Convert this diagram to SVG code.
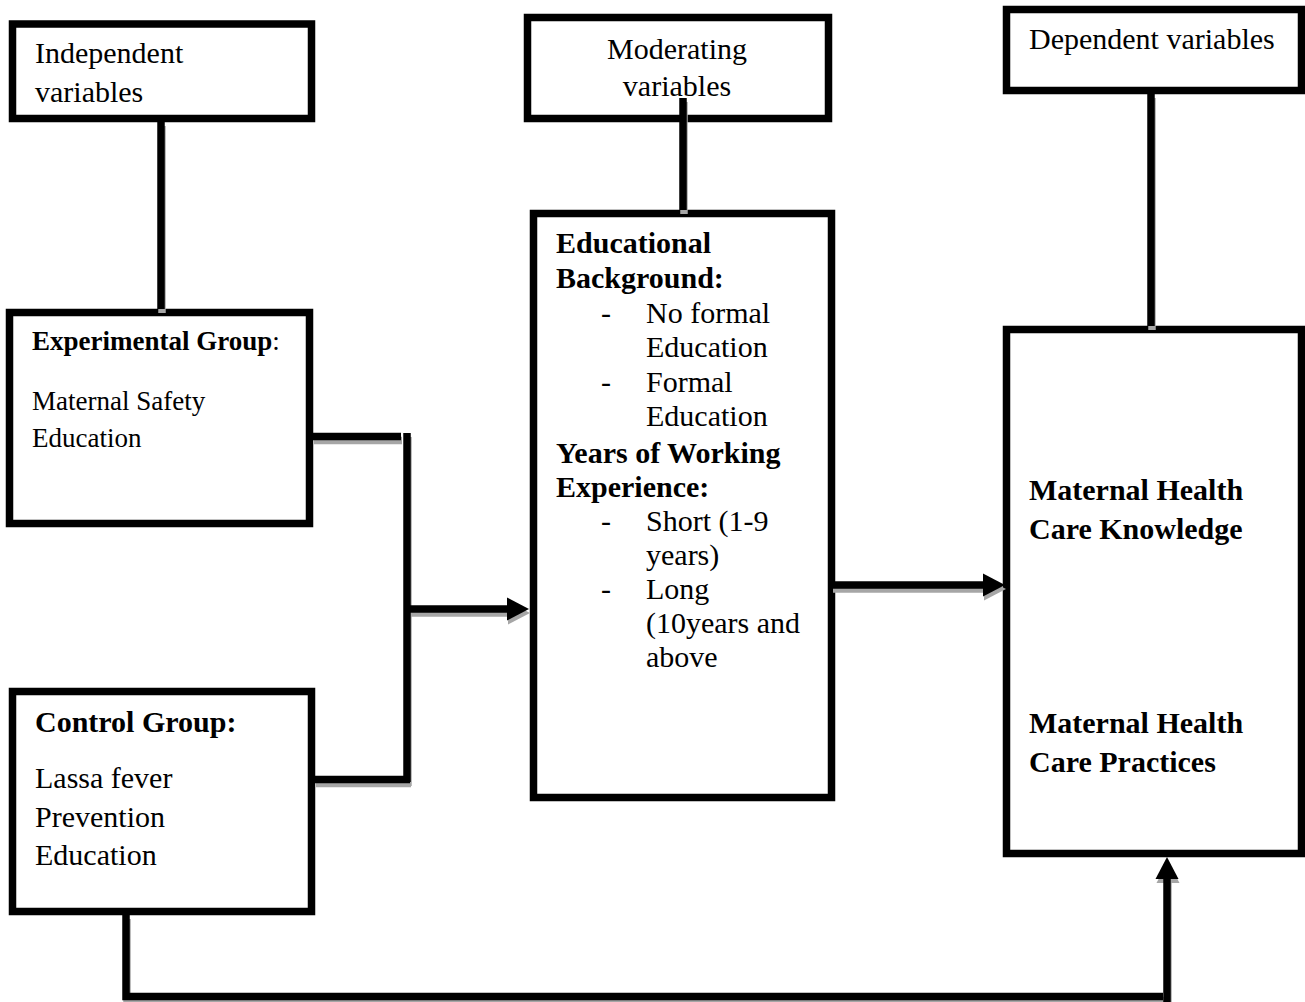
<svg xmlns="http://www.w3.org/2000/svg" width="1305" height="1002" viewBox="0 0 1305 1002">
<style>
  text { font-family: "Liberation Serif", "Times New Roman", serif; font-size: 30px; fill: #000; }
  .b { font-weight: bold; }
  .s { font-size: 27px; }
  .box { fill: #fff; stroke: #000; stroke-width: 7.5; }
  .ln { fill: none; stroke: #000; stroke-width: 7.5; stroke-linecap: butt; stroke-linejoin: miter; }
  .sh { fill: none; stroke: #a6a6a6; stroke-width: 7.5; stroke-linecap: butt; stroke-linejoin: miter; }
</style>
<defs>
  <marker id="ah" markerUnits="userSpaceOnUse" markerWidth="22" markerHeight="23" refX="0" refY="11.5" orient="auto" overflow="visible">
    <path d="M0,0 L22,11.5 L0,23 Z" fill="#000"/>
  </marker>
  <marker id="ahs" markerUnits="userSpaceOnUse" markerWidth="22" markerHeight="23" refX="0" refY="11.5" orient="auto" overflow="visible">
    <path d="M0,0 L22,11.5 L0,23 Z" fill="#a6a6a6"/>
  </marker>
</defs>
<rect width="1305" height="1002" fill="#fff"/>

<g id="independent">
  <rect class="box" x="12.5" y="24" width="299" height="94.5"/>
  <text x="35" y="63">Independent</text>
  <text x="35" y="102">variables</text>
</g>

<g id="moderating">
  <rect class="box" x="527.5" y="17.5" width="301" height="101"/>
  <text x="677" y="59" text-anchor="middle">Moderating</text>
  <text x="677" y="96" text-anchor="middle">variables</text>
</g>

<g id="dependent">
  <rect class="box" x="1006.5" y="9.5" width="295" height="81"/>
  <text x="1029" y="49">Dependent variables</text>
</g>

<g id="experimental">
  <rect class="box" x="9.5" y="312.5" width="300" height="211"/>
  <text class="s" x="32" y="350"><tspan class="b">Experimental Group</tspan>:</text>
  <text class="s" x="32" y="410">Maternal Safety</text>
  <text class="s" x="32" y="447">Education</text>
</g>

<g id="control">
  <rect class="box" x="12.5" y="691.5" width="299" height="220"/>
  <text class="b" x="35" y="732">Control Group:</text>
  <text x="35" y="788">Lassa fever</text>
  <text x="35" y="827">Prevention</text>
  <text x="35" y="865">Education</text>
</g>

<g id="moderators">
  <rect class="box" x="533.5" y="213.5" width="298" height="584"/>
  <text class="b" x="556" y="253">Educational</text>
  <text class="b" x="556" y="288">Background:</text>
  <text x="601" y="323">-</text><text x="646" y="323">No formal</text>
  <text x="646" y="357">Education</text>
  <text x="601" y="391.5">-</text><text x="646" y="391.5">Formal</text>
  <text x="646" y="426">Education</text>
  <text class="b" x="556" y="462.5">Years of Working</text>
  <text class="b" x="556" y="497">Experience:</text>
  <text x="601" y="531">-</text><text x="646" y="531">Short (1-9</text>
  <text x="646" y="565">years)</text>
  <text x="601" y="599">-</text><text x="646" y="599">Long</text>
  <text x="646" y="633">(10years and</text>
  <text x="646" y="667">above</text>
</g>

<g id="outcomes">
  <rect class="box" x="1006.5" y="329.5" width="295" height="524"/>
  <text class="b" x="1029" y="500">Maternal Health</text>
  <text class="b" x="1029" y="539">Care Knowledge</text>
  <text class="b" x="1029" y="733">Maternal Health</text>
  <text class="b" x="1029" y="772">Care Practices</text>
</g>

<g id="connectors">
  <g id="shadows" transform="translate(1,4)">
    <path class="sh" d="M161,122 V309"/>
    <path class="sh" d="M683,98 V210"/>
    <path class="sh" d="M1151,94 V326"/>
    <path class="sh" d="M313,436.5 H401"/>
    <path class="sh" d="M407,433 V782"/>
    <path class="sh" d="M315,779.5 H410"/>
    <path class="sh" d="M410,609 H507" marker-end="url(#ahs)"/>
    <path class="sh" d="M832,585 H983" marker-end="url(#ahs)"/>
    <path class="sh" d="M126,915 V996.5 H1163"/>
    <path class="sh" d="M1167,1002 V879" marker-end="url(#ahs)"/>
  </g>
  <path class="ln" d="M161,122 V309"/>
  <path class="ln" d="M683,98 V210"/>
  <path class="ln" d="M1151,94 V326"/>
  <path class="ln" d="M313,436.5 H401"/>
  <path class="ln" d="M407,433 V782"/>
  <path class="ln" d="M315,779.5 H410"/>
  <path class="ln" d="M410,609 H507" marker-end="url(#ah)"/>
  <path class="ln" d="M832,585 H983" marker-end="url(#ah)"/>
  <path class="ln" d="M126,915 V996.5 H1163"/>
  <path class="ln" d="M1167,1002 V879" marker-end="url(#ah)"/>
</g>
</svg>
